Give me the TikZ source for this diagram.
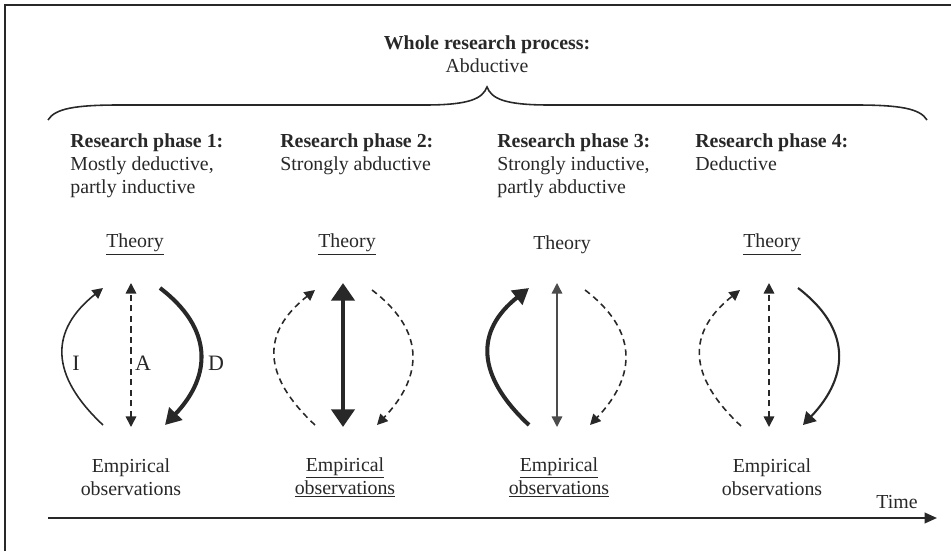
\documentclass[tikz,border=0pt]{standalone}
\usepackage{fontspec}
\setmainfont{Liberation Serif}
\usetikzlibrary{arrows.meta, positioning, calc}
\definecolor{inkgray}{RGB}{40,40,40}
\tikzset{>={Triangle[length=6pt,width=6pt]}}
\tikzset{bighead/.tip={Triangle[length=9pt,width=10pt]}}
\tikzset{
  weak/.style={line width=0.9pt, dash pattern=on 3.5pt off 2.5pt},
  plain/.style={line width=0.9pt},
  strong/.style={line width=2.3pt},
  phasetext/.style={anchor=north west, align=left, inner sep=0pt},
  obs/.style={align=center, inner sep=1pt},
}

\begin{document}
\begin{tikzpicture}[inkgray, font=\fontsize{11.3}{13.1}\selectfont]

	\useasboundingbox (0,0) rectangle (19.02,11.02);
	\draw [line width=1.7pt] (0.1,0) -- (0.1,10.92) -- (19.02,10.92);

	% whole process
	\node [align=center] (whole) at (9.74,9.94) {\textbf{Whole research process:}\\Abductive};
	\draw [line width=0.9pt] (0.96,8.62) .. controls (1.1,8.85) and (1.5,8.92) .. (2.4,8.92)
		-- (8.5,8.92) .. controls (9.4,8.92) and (9.65,9.05) .. (9.74,9.28)
		.. controls (9.83,9.05) and (10.08,8.92) .. (10.98,8.92)
		-- (17.1,8.92) .. controls (18.0,8.92) and (18.4,8.85) .. (18.54,8.62);

	\node [phasetext] (ph1) at (1.40,8.36) {\textbf{Research phase 1:}\\Mostly deductive,\\partly inductive};
	\node [phasetext] (ph2) at (5.60,8.36) {\textbf{Research phase 2:}\\Strongly abductive};
	\node [phasetext] (ph3) at (9.94,8.36) {\textbf{Research phase 3:}\\Strongly inductive,\\partly abductive};
	\node [phasetext] (ph4) at (13.90,8.36) {\textbf{Research phase 4:}\\Deductive};

	% phase 1
	\node (th1) at (2.70,6.12) {\underline{Theory}};
	\node [obs] (em1) at (2.62,1.47) {Empirical\\observations};
	\coordinate (ct1) at (2.62,5.36); \coordinate (cb1) at (2.62,2.48);
	\coordinate (lb1) at (2.06,2.52); \coordinate (lt1) at (2.06,5.26);
	\coordinate (rt1) at (3.20,5.26); \coordinate (rb1) at (3.30,2.52);
	\draw [plain,->] (lb1) .. controls +(-1.07,1.0) and +(-1.07,-0.85) .. (lt1);
	\draw [weak,<->] (cb1) -- (ct1);
	\draw [strong,-bighead] (rt1) .. controls +(1.05,-0.8) and +(0.95,1.0) .. (rb1);
	\node [font=\fontsize{12.5}{14}\selectfont] (li) at (1.52,3.76) {I};
	\node [font=\fontsize{12.5}{14}\selectfont] (la) at (2.86,3.76) {A};
	\node [font=\fontsize{12.5}{14}\selectfont] (ld) at (4.32,3.76) {D};

	% phase 2
	\node (th2) at (6.94,6.12) {\underline{Theory}};
	\node [obs] (em2) at (6.90,1.47) {\underline{Empirical}\\\underline{observations}};
	\coordinate (ct2) at (6.86,5.36); \coordinate (cb2) at (6.86,2.48);
	\coordinate (lb2) at (6.30,2.52); \coordinate (lt2) at (6.30,5.22);
	\coordinate (rt2) at (7.44,5.22); \coordinate (rb2) at (7.54,2.52);
	\draw [weak,->] (lb2) .. controls +(-1.07,1.0) and +(-1.07,-0.85) .. (lt2);
	\draw [line width=2.6pt,{Triangle[length=10pt,width=13pt]}-{Triangle[length=10pt,width=13pt]}] (cb2) -- (ct2);
	\draw [weak,->] (rt2) .. controls +(1.05,-0.8) and +(0.95,1.0) .. (rb2);

	% phase 3
	\node (th3) at (11.24,6.12) {Theory};
	\node [obs] (em3) at (11.18,1.47) {\underline{Empirical}\\\underline{observations}};
	\coordinate (ct3) at (11.14,5.36); \coordinate (cb3) at (11.14,2.48);
	\coordinate (lb3) at (10.58,2.52); \coordinate (lt3) at (10.58,5.26);
	\coordinate (rt3) at (11.70,5.22); \coordinate (rb3) at (11.80,2.52);
	\draw [strong,-bighead] (lb3) .. controls +(-1.07,1.0) and +(-1.07,-0.85) .. (lt3);
	\draw [line width=0.8pt,black!70,<->] (cb3) -- (ct3);
	\draw [weak,->] (rt3) .. controls +(1.05,-0.8) and +(0.95,1.0) .. (rb3);

	% phase 4
	\node (th4) at (15.44,6.12) {\underline{Theory}};
	\node [obs] (em4) at (15.44,1.47) {Empirical\\observations};
	\coordinate (ct4) at (15.38,5.36); \coordinate (cb4) at (15.38,2.48);
	\coordinate (lb4) at (14.82,2.50); \coordinate (lt4) at (14.80,5.22);
	\coordinate (rt4) at (15.96,5.26); \coordinate (rb4) at (16.06,2.52);
	\draw [weak,->] (lb4) .. controls +(-1.07,1.0) and +(-1.07,-0.85) .. (lt4);
	\draw [weak,<->] (cb4) -- (ct4);
	\draw [line width=1.2pt,-{Triangle[length=7pt,width=8pt]}] (rt4) .. controls +(1.05,-0.8) and +(0.95,1.0) .. (rb4);

	% time axis
	\coordinate (ts) at (0.96,0.66);
	\coordinate (te) at (18.74,0.66);
	\draw [line width=1.1pt,-{Triangle[length=7pt,width=6pt]}] (ts) -- (te);
	\node (time) at (17.94,0.98) {Time};

\end{tikzpicture}
\end{document}
